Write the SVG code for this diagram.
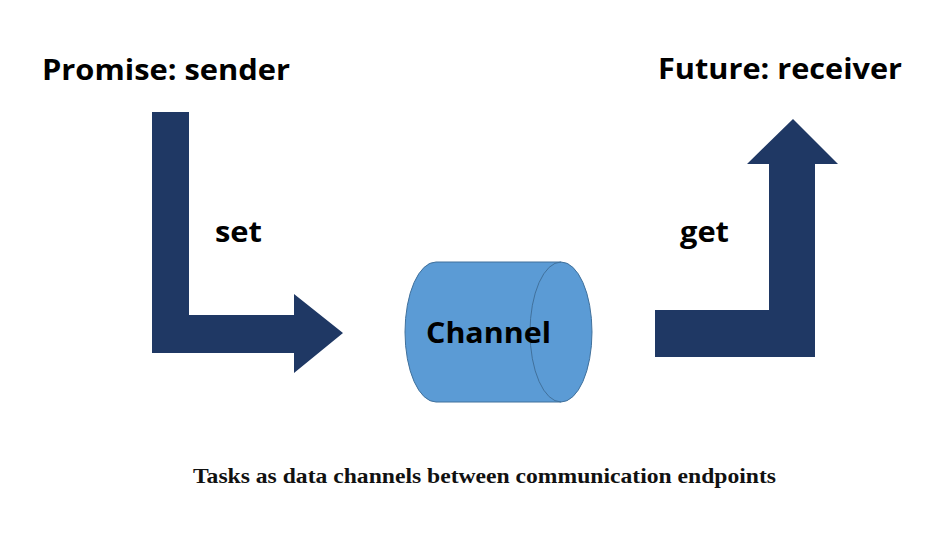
<svg xmlns="http://www.w3.org/2000/svg" width="936" height="551" viewBox="0 0 936 551">
<style>
.lbl{font-family:"Open Sans","Liberation Sans",sans-serif;font-weight:bold;fill:#000}
.arrow{fill:#1F3864}
.cap{font-family:"Liberation Serif","DejaVu Serif",serif;font-weight:bold;fill:#111}
</style>
<rect width="936" height="551" fill="#fff"/>
<g id="promise">
<text class="lbl" x="42" y="80" font-size="29" textLength="248" lengthAdjust="spacingAndGlyphs">Promise: sender</text>
</g>
<g id="future">
<text class="lbl" x="658" y="79" font-size="29" textLength="244" lengthAdjust="spacingAndGlyphs">Future: receiver</text>
</g>
<g id="channel">
<path d="M436,262 L561,262 A31,70 0 0 1 561,402 L436,402 A31,70 0 0 1 436,262 Z" fill="#5B9BD5" stroke="#41719C" stroke-width="1"/>
<path d="M561,262 A31,70 0 0 0 561,402" fill="none" stroke="#41719C" stroke-width="1"/>
<text class="lbl" x="426" y="343" font-size="28" textLength="125" lengthAdjust="spacingAndGlyphs">Channel</text>
</g>
<g id="connectors">
<g id="set-arrow">
<path class="arrow" d="M152,112 L189,112 L189,315 L294,315 L294,294 L343,333 L294,373 L294,353 L152,353 Z"/>
<text class="lbl" x="215" y="242" font-size="28" textLength="47" lengthAdjust="spacingAndGlyphs">set</text>
</g>
<g id="get-arrow">
<path class="arrow" d="M655,310 L769,310 L769,164 L747,164 L793,119 L838,164 L815,164 L815,357 L655,357 Z"/>
<text class="lbl" x="680" y="242" font-size="28" textLength="49" lengthAdjust="spacingAndGlyphs">get</text>
</g>
</g>
<text class="cap" x="193" y="483" font-size="22" textLength="583" lengthAdjust="spacingAndGlyphs">Tasks as data channels between communication endpoints</text>
</svg>
